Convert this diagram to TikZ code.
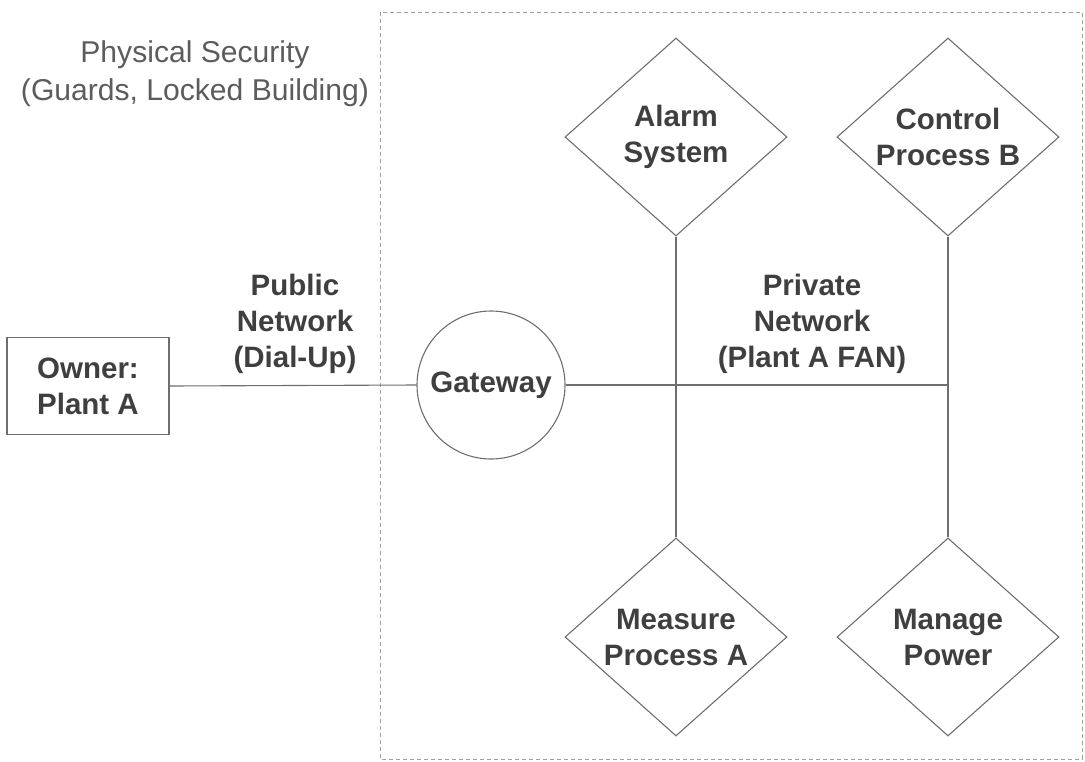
\documentclass[tikz,border=0pt]{standalone}
\usepackage{fontspec}
\setmainfont{Liberation Sans}
\usetikzlibrary{shapes.geometric}
\definecolor{ink}{HTML}{3F3F3F}
\definecolor{wire}{HTML}{6E6E6E}
\definecolor{frame}{HTML}{A0A0A0}
\begin{document}
\begin{tikzpicture}[x=1pt,y=-1pt,
  lbl/.style={text=ink,font=\bfseries\fontsize{29.5}{36}\selectfont,align=center,inner sep=0pt},
  plain/.style={text=ink!85,font=\fontsize{30.1}{38}\selectfont,align=center,inner sep=0pt},
  decision/.style={lbl,draw=wire,line width=1.1pt,shape=diamond,aspect=1.12,
    minimum width=222pt,minimum height=198pt,inner sep=0pt},
  link/.style={draw=wire,line width=1.1pt}]
  \useasboundingbox (0,0) rectangle (1085,761);
  % security perimeter
  \draw[frame,line width=0.8pt,dash pattern=on 4pt off 3pt] (380,12) rectangle (1082,759);
  \node[plain] (phys) at (195,74) {Physical Security\\(Guards, Locked Building)};
  % nodes
  \node[lbl,draw=wire,line width=1.1pt,minimum width=162pt,minimum height=97pt] (owner) at (88,386) {Owner:\\Plant A};
  \node[lbl,draw=wire,line width=1.1pt,circle,minimum size=148pt] (gw) at (491,385) {Gateway};
  \node[decision] (alarm) at (676,137) {Alarm\\System};
  \node[decision] (ctrl) at (948,137) {Control\\Process B};
  \node[decision] (meas) at (676,637) {Measure\\Process A};
  \node[decision] (power) at (948,637) {Manage\\Power};
  \node[lbl] (pub) at (295,324) {Public\\Network\\(Dial-Up)};
  \node[lbl] (priv) at (812,324) {Private\\Network\\(Plant A FAN)};
  % network links
  \coordinate (jB) at (ctrl.south |- gw.east);
  \draw[link] (owner.east) -- (gw.west);
  \draw[link] (gw.east) -- (jB);
  \draw[link] (alarm.south) -- (meas.north);
  \draw[link] (ctrl.south) -- (power.north);
\end{tikzpicture}
\end{document}
